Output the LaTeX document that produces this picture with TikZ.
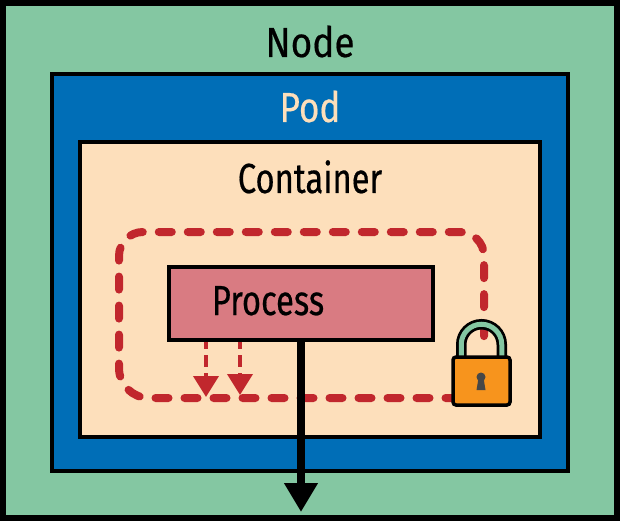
\documentclass[tikz,border=0pt]{standalone}
\usepackage{fontspec}
\setmainfont{Fira Sans}[FakeBold=0.5]
\usetikzlibrary{arrows.meta}
\definecolor{nodegreen}{HTML}{84C7A2}
\definecolor{podblue}{HTML}{006EB7}
\definecolor{peach}{HTML}{FDDFBB}
\definecolor{rose}{HTML}{D97B82}
\definecolor{dashred}{HTML}{C1272D}
\definecolor{lockorange}{HTML}{F7941D}
\tikzset{
  layerbox/.style={draw=black,line width=4pt,rectangle,inner sep=0pt,anchor=north west},
  lbl/.style={inner sep=0pt,font=\fontsize{42}{42}\selectfont,xscale=0.78,anchor=base},
  boundary/.style={draw=dashred,line width=8pt,line cap=round,dash pattern=on 13pt off 16pt},
  syscall/.style={draw=dashred,line width=4pt,dash pattern=on 12pt off 6pt,-{Triangle[length=21pt,width=25pt,fill=dashred]}},
  exitline/.style={draw=black,line width=8pt,-{Triangle[length=29pt,width=32pt,fill=black]}},
}
\begin{document}
\begin{tikzpicture}[x=1pt,y=-1pt]
\useasboundingbox (0,0) rectangle (620,521);
\fill[black] (0,0) rectangle (620,521);
\node[fill=nodegreen,minimum width=608pt,minimum height=509pt,rectangle,inner sep=0pt,anchor=north west] (nodebox) at (6,6) {};
\node[layerbox,fill=podblue,minimum width=516pt,minimum height=397pt] (pod) at (50,72) {};
\node[layerbox,fill=peach,minimum width=460pt,minimum height=295pt] (container) at (78,140) {};
\node[lbl,xscale=1.13] (nodelabel) at (310,57) {Node};
\node[lbl,text=peach,xscale=1.07] (podlabel) at (310,122) {Pod};
\node[lbl] (containerlabel) at (310,193) {Container};
\draw[boundary] (458.5,398) [rounded corners=30pt] -- (119,398) [rounded corners=24pt] -- (119,232) -- (484,232) -- (484,350);
\coordinate (s1) at (206,337);
\coordinate (s2) at (240,337);
\coordinate (s1end) at (206,397);
\coordinate (s2end) at (240,395);
\draw[syscall] (s1) -- (s1end);
\draw[syscall] (s2) -- (s2end);
\node[layerbox,fill=rose,minimum width=264pt,minimum height=73pt] (process) at (167,265) {};
\node[lbl] (processlabel) at (268,315) {Process};
\coordinate (ex0) at (301,340);
\coordinate (ex1) at (301,512);
\draw[exitline] (ex0) -- (ex1);
% padlock
\draw[black,line width=10.5pt] (461.25,360) -- (461.25,344.5) arc[start angle=180,end angle=360,radius=20.25] -- (501.75,360);
\draw[nodegreen,line width=5pt] (461.25,360) -- (461.25,344.5) arc[start angle=180,end angle=360,radius=20.25] -- (501.75,360);
\draw[black,line width=3.5pt,fill=lockorange,rounded corners=3pt] (453,357) rectangle (510,405);
\fill[black!72] (481,377) circle[radius=4.5pt];
\fill[black!72] (478.5,378) -- (483.5,378) -- (485.5,390) -- (476.5,390) -- cycle;
\end{tikzpicture}
\end{document}
